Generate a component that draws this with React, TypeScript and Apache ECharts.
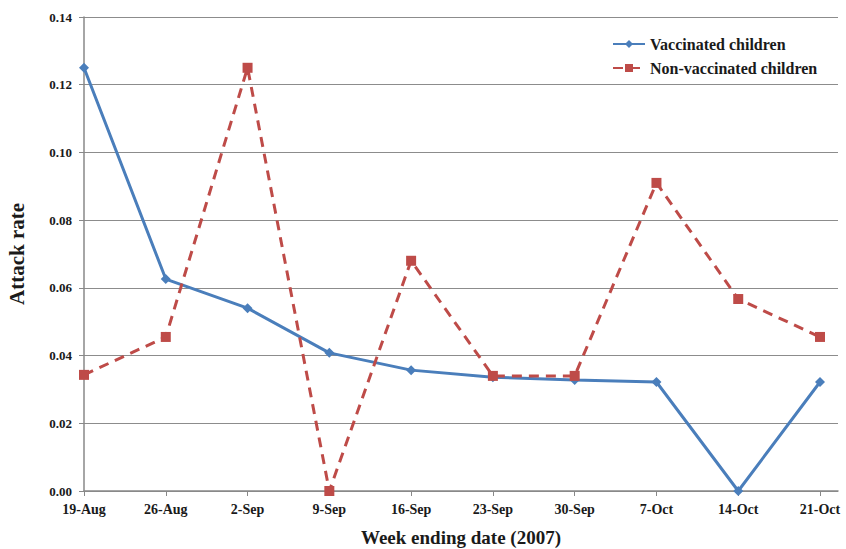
import React, { useEffect, useRef } from "react";
import * as echarts from "echarts";

const categories = ["19-Aug", "26-Aug", "2-Sep", "9-Sep", "16-Sep", "23-Sep", "30-Sep", "7-Oct", "14-Oct", "21-Oct"];
const vaccinated = [0.125, 0.0626, 0.054, 0.0408, 0.0357, 0.0336, 0.0328, 0.0322, 0, 0.0322];
const nonVaccinated = [0.0343, 0.0455, 0.125, 0, 0.068, 0.034, 0.034, 0.091, 0.0567, 0.0455];
const yTicks = [0, 0.02, 0.04, 0.06, 0.08, 0.1, 0.12, 0.14];

const FONT = "Liberation Serif";

export default function App() {
  const ref = useRef<HTMLDivElement>(null);
  useEffect(() => {
    if (!ref.current) return;
    const chart = echarts.init(ref.current, undefined, { renderer: "svg" });
    const idx = categories.map((_, i) => i);
    chart.setOption({
      animation: false,
      backgroundColor: "#fff",
      textStyle: { fontFamily: FONT },
      grid: { left: 84, right: 8, top: 17, bottom: 58, containLabel: false, outerBoundsMode: "none" },
      legend: {
        orient: "vertical",
        left: 607,
        top: 31,
        itemGap: 8,
        itemWidth: 32,
        itemHeight: 10,
        textStyle: { fontFamily: FONT, fontWeight: "bold", fontSize: 16, color: "#1a1a1a" },
        data: ["Vaccinated children", "Non-vaccinated children"],
      },
      xAxis: {
        type: "value",
        min: 0,
        max: 9.22,
        interval: 1,
        name: "Week ending date (2007)",
        nameLocation: "middle",
        nameGap: 37,
        nameTextStyle: { fontFamily: FONT, fontWeight: "bold", fontSize: 19, color: "#1a1a1a" },
        axisLine: { show: true, lineStyle: { color: "#888", width: 1.5 } },
        axisTick: { show: true, length: 5, lineStyle: { color: "#888" }, customValues: idx },
        axisLabel: {
          customValues: idx,
          formatter: (v: number) => categories[Math.round(v)] ?? "",
          fontFamily: FONT,
          fontWeight: "bold",
          fontSize: 14,
          color: "#1a1a1a",
          margin: 11,
        },
        splitLine: { show: false },
      },
      yAxis: {
        type: "value",
        min: 0,
        max: 0.14,
        interval: 0.02,
        name: "Attack rate",
        nameLocation: "middle",
        nameGap: 57,
        nameTextStyle: { fontFamily: FONT, fontWeight: "bold", fontSize: 21, color: "#1a1a1a" },
        axisLine: { show: true, lineStyle: { color: "#888", width: 1.5 } },
        axisTick: { show: true, length: 5, inside: false, lineStyle: { color: "#888" } },
        axisLabel: {
          formatter: (v: number) => (yTicks.includes(Math.round(v * 100) / 100) ? v.toFixed(2) : ""),
          fontFamily: FONT,
          fontWeight: "bold",
          fontSize: 13,
          color: "#1a1a1a",
          margin: 12,
        },
        splitLine: { show: true, lineStyle: { color: "#8c8c8c", width: 1.2 } },
      },
      series: [
        {
          name: "Vaccinated children",
          type: "line",
          data: vaccinated.map((v, i) => [i, v]),
          symbol: "diamond",
          symbolSize: 10,
          itemStyle: { color: "#4A7EBB" },
          lineStyle: { color: "#4A7EBB", width: 3 },
        },
        {
          name: "Non-vaccinated children",
          type: "line",
          data: nonVaccinated.map((v, i) => [i, v]),
          symbol: "rect",
          symbolSize: 10,
          itemStyle: { color: "#BE4B48" },
          lineStyle: { color: "#BE4B48", width: 3, type: [10, 7] },
        },
      ],
    });
    return () => chart.dispose();
  }, []);
  return (
    <div
      ref={ref}
      style={{ position: "absolute", left: 0, top: 0, width: 846, height: 549 }}
    />
  );
}
